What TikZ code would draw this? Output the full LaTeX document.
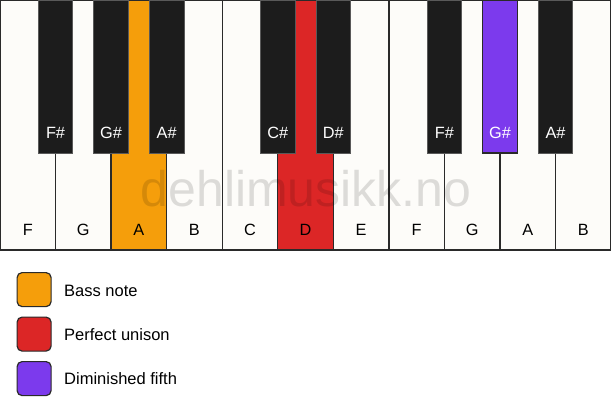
\documentclass[tikz,border=0pt]{standalone}
\usepackage{fontspec}
\setmainfont{Liberation Sans}
\definecolor{bassC}{HTML}{F59E0B}
\definecolor{unisonC}{HTML}{DC2626}
\definecolor{dimC}{HTML}{7C3AED}
\definecolor{ivory}{HTML}{FDFCF9}
\definecolor{ebony}{HTML}{1C1C1C}
\definecolor{edge}{HTML}{2A2A2A}
\begin{document}
\begin{tikzpicture}[x=1pt,y=-1pt,
  whitekey/.style={draw=edge,line width=1.3pt,fill=ivory,rectangle,anchor=north west,
    minimum width=55.55pt,minimum height=250pt,inner sep=0pt,outer sep=0pt},
  blackkey/.style={draw=black!65,line width=0.8pt,fill=ebony,rectangle,anchor=north,
    minimum width=34.5pt,minimum height=153pt,inner sep=0pt,outer sep=0pt},
  wlabel/.style={font=\fontsize{16.3}{16.3}\selectfont,text=black,anchor=base,inner sep=0pt},
  blabel/.style={font=\fontsize{16.3}{16.3}\selectfont,text=white,anchor=base,inner sep=0pt},
  legbox/.style={draw=edge,line width=1.2pt,rounded corners=5pt,rectangle,
    minimum width=34pt,minimum height=34pt,inner sep=0pt,anchor=north west},
  legtext/.style={font=\fontsize{16.5}{16.5}\selectfont,text=black,anchor=base west,inner sep=0pt}]
\useasboundingbox (0,0) rectangle (611,417);
\fill[white] (0,0) rectangle (611,417);
% white keys
\foreach \i/\n/\nm/\col in {0/F/wF1/ivory,1/G/wG1/ivory,2/A/wA1/bassC,3/B/wB1/ivory,
   4/C/wC/ivory,5/D/wD/unisonC,6/E/wE/ivory,7/F/wF2/ivory,8/G/wG2/ivory,9/A/wA2/ivory,10/B/wB2/ivory}{
  \node[whitekey,fill=\col] (\nm) at (55.55*\i,0) {};
  \node[wlabel] (\nm-l) at (55.55*\i+27.77,236) {\n};
}
% black keys
\foreach \i/\n/\nm/\col in {1/F\#/bFs1/ebony,2/G\#/bGs1/ebony,3/A\#/bAs1/ebony,
   5/C\#/bCs/ebony,6/D\#/bDs/ebony,8/F\#/bFs2/ebony,9/G\#/bGs2/dimC,10/A\#/bAs2/ebony}{
  \node[blackkey,fill=\col] (\nm) at (55.55*\i,0) {};
  \node[blabel] (\nm-l) at (55.55*\i,139) {\n};
}
\draw[draw=edge,line width=1.2pt] (bGs2.north west) rectangle (bGs2.south east);
% watermark
\node[font=\fontsize{50}{50}\selectfont,text=black,opacity=0.13,anchor=base,inner sep=0pt] (wm) at (306,207) {dehlimusikk.no};
% legend
\node[legbox,fill=bassC] (lg1) at (16.5,272) {};
\node[legbox,fill=unisonC] (lg2) at (16.5,316.5) {};
\node[legbox,fill=dimC] (lg3) at (16.5,361) {};
\node[legtext] (lt1) at (64,296) {Bass note};
\node[legtext] (lt2) at (64,340) {Perfect unison};
\node[legtext] (lt3) at (64,384) {Diminished fifth};
\end{tikzpicture}
\end{document}
